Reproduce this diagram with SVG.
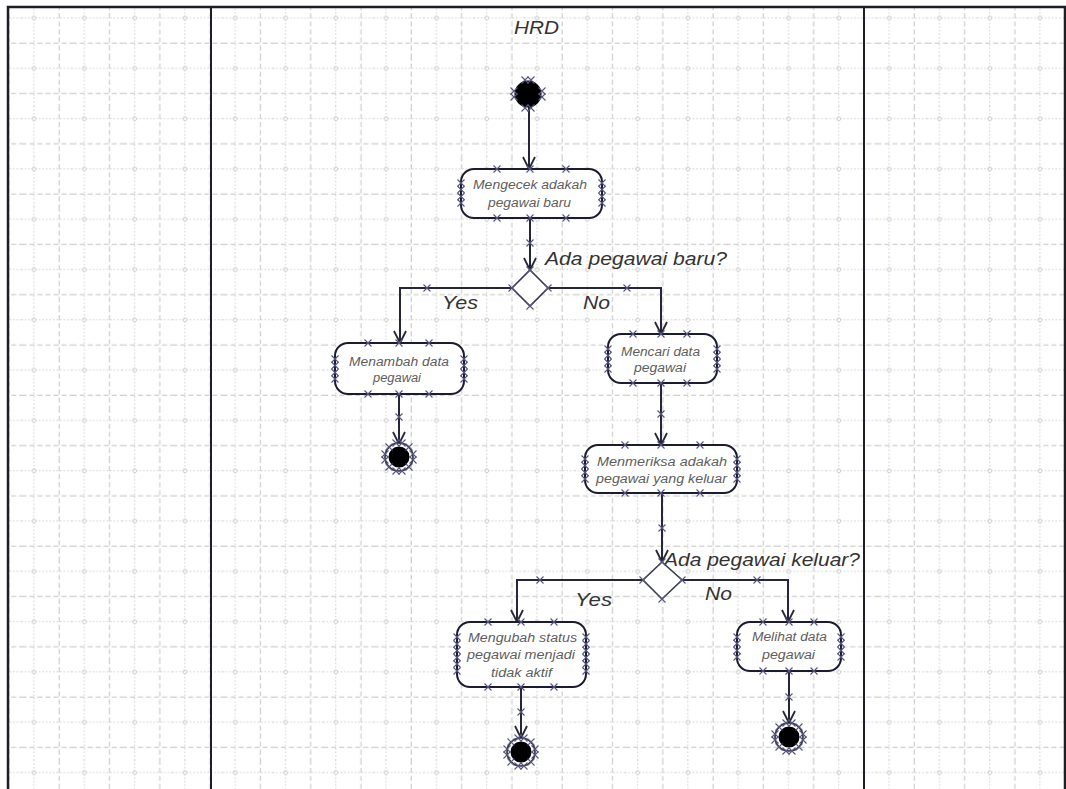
<svg xmlns="http://www.w3.org/2000/svg" width="1066" height="789" viewBox="0 0 1066 789">
  <style>
    .frame { fill: none; stroke: #1e1e24; stroke-width: 2.5; }
    .lane { stroke: #1e1e24; stroke-width: 2; }
    .gdot { stroke: #cfcfcf; stroke-width: 1; stroke-dasharray: 1.5 2; }
    .gdash { stroke: #c2c2c2; stroke-width: 1; stroke-dasharray: 5 3; }
    .act { fill: #ffffff; stroke: #1c1c30; stroke-width: 2; }
    .dec { fill: #ffffff; stroke: #3a3a4a; stroke-width: 1.6; }
    .flow { fill: none; stroke: #26263a; stroke-width: 2; }
    .hx { fill: none; stroke: #55557f; stroke-width: 1.1; }
    .atxt { font-family: "Liberation Sans", Arial, sans-serif; font-style: italic; font-size: 12.5px; fill: #5e5e5e; text-anchor: middle; }
    .big { font-family: "Liberation Sans", Arial, sans-serif; font-style: italic; font-size: 19px; fill: #333333; }
  </style>
  <defs>
    <pattern id="grid" patternUnits="userSpaceOnUse" x="21.43" y="5.43" width="50.3" height="50.3">
      <line class="gdot" x1="12.575" y1="0" x2="12.575" y2="50.3"/>
      <line class="gdot" x1="0" y1="12.575" x2="50.3" y2="12.575"/>
      <line class="gdash" x1="37.725" y1="0" x2="37.725" y2="50.3"/>
      <line class="gdash" x1="0" y1="37.725" x2="50.3" y2="37.725"/>
      <circle cx="12.575" cy="12.575" r="2" fill="none" stroke="#c8c8c8" stroke-width="0.8"/>
    </pattern>
    <marker id="arr" markerUnits="userSpaceOnUse" markerWidth="16" markerHeight="16" refX="13" refY="7" orient="auto">
      <path d="M1,1 L13,7 L1,13" fill="none" stroke="#26263a" stroke-width="1.8"/>
    </marker>
    <!-- single selection handle -->
    <path id="x" class="hx" d="M-3.5,-3.5 L3.5,3.5 M-3.5,3.5 L3.5,-3.5"/>
    <!-- doubled handle used on the initial / final nodes -->
    <g id="xx"><use href="#x" x="-3"/><use href="#x" x="3"/></g>
    <g id="xv"><use href="#x" y="-3"/><use href="#x" y="3"/></g>
    <!-- vertical handle chain on action sides -->
    <g id="side"><use href="#x" y="-10"/><use href="#x" y="-3.5"/><use href="#x" y="3.5"/><use href="#x" y="10"/></g>
    <g id="sideT"><use href="#x" y="-17"/><use href="#x" y="-10"/><use href="#x" y="-3.5"/><use href="#x" y="3.5"/><use href="#x" y="10"/><use href="#x" y="17"/></g>
    <!-- final node -->
    <g id="final">
      <circle r="14" fill="#ffffff" stroke="#2a2a3a" stroke-width="1.6"/>
      <circle r="10.5" fill="#000000"/>
      <use href="#xx" y="-14"/><use href="#xx" y="14"/>
      <use href="#xv" x="-14"/><use href="#xv" x="14"/>
      <use href="#x" x="-10" y="-10"/><use href="#x" x="10" y="-10"/>
      <use href="#x" x="-10" y="10"/><use href="#x" x="10" y="10"/>
    </g>
  </defs>

  <!-- paper and grid -->
  <rect x="0" y="0" width="1066" height="789" fill="#ffffff"/>
  <rect x="8" y="7" width="1057" height="782" fill="url(#grid)"/>
  <rect class="frame" x="8" y="7" width="1057" height="790"/>
  <line class="lane" x1="211" y1="7" x2="211" y2="789"/>
  <line class="lane" x1="864" y1="7" x2="864" y2="789"/>
  <text class="big" x="514" y="34" textLength="45" lengthAdjust="spacingAndGlyphs">HRD</text>

  <!-- connectors -->
  <g id="connectors">
    <path class="flow" d="M529,107 L529,169" marker-end="url(#arr)"/>
    <path class="flow" d="M530,218 L530,270" marker-end="url(#arr)"/>
    <path class="flow" d="M512,288 L400,288 L400,343" marker-end="url(#arr)"/>
    <path class="flow" d="M548,288 L661,288 L661,334" marker-end="url(#arr)"/>
    <path class="flow" d="M399,394 L399,444" marker-end="url(#arr)"/>
    <path class="flow" d="M661,383 L661,445" marker-end="url(#arr)"/>
    <path class="flow" d="M662,493 L662,562" marker-end="url(#arr)"/>
    <path class="flow" d="M643,580 L517,580 L517,622" marker-end="url(#arr)"/>
    <path class="flow" d="M682,580 L788,580 L788,622" marker-end="url(#arr)"/>
    <path class="flow" d="M521,687 L521,738" marker-end="url(#arr)"/>
    <path class="flow" d="M789,671 L789,723" marker-end="url(#arr)"/>
    <!-- handles on connectors -->
    <use href="#x" x="530" y="243"/>
    <use href="#x" x="427" y="288"/>
    <use href="#x" x="627" y="288"/>
    <use href="#x" x="399" y="417"/>
    <use href="#x" x="661" y="414"/>
    <use href="#x" x="662" y="528"/>
    <use href="#x" x="540" y="580"/>
    <use href="#x" x="757" y="580"/>
    <use href="#x" x="521" y="712"/>
    <use href="#x" x="789" y="697"/>
    <text class="big" x="545" y="265" textLength="182" lengthAdjust="spacingAndGlyphs">Ada pegawai baru?</text>
    <text class="big" x="442" y="309" textLength="36" lengthAdjust="spacingAndGlyphs">Yes</text>
    <text class="big" x="583" y="309" textLength="27" lengthAdjust="spacingAndGlyphs">No</text>
    <text class="big" x="664" y="566" textLength="196" lengthAdjust="spacingAndGlyphs">Ada pegawai keluar?</text>
    <text class="big" x="575" y="606" textLength="37" lengthAdjust="spacingAndGlyphs">Yes</text>
    <text class="big" x="705" y="600" textLength="27" lengthAdjust="spacingAndGlyphs">No</text>
  </g>

  <!-- initial node -->
  <g id="start">
    <circle cx="528" cy="94" r="13.5" fill="#000000"/>
    <use href="#xx" x="528" y="80"/>
    <use href="#xx" x="528" y="108"/>
    <use href="#xv" x="514" y="94"/>
    <use href="#xv" x="542" y="94"/>
  </g>

  <g id="act-cek">
    <rect class="act" x="461" y="169" width="141" height="49" rx="13"/>
    <use href="#x" x="497" y="169"/><use href="#x" x="530" y="169"/><use href="#x" x="566" y="169"/>
    <use href="#x" x="497" y="218"/><use href="#x" x="530" y="218"/><use href="#x" x="566" y="218"/>
    <use href="#side" x="461" y="193"/><use href="#side" x="602" y="193"/>
    <text class="atxt" x="530" y="189" textLength="114" lengthAdjust="spacingAndGlyphs">Mengecek adakah</text>
    <text class="atxt" x="529.5" y="207" textLength="83" lengthAdjust="spacingAndGlyphs">pegawai baru</text>
  </g>

  <g id="dec-baru">
    <path class="dec" d="M530,270 L548,288 L530,306 L512,288 Z"/>
    <use href="#x" x="530" y="270"/><use href="#x" x="548" y="288"/>
    <use href="#x" x="530" y="306"/><use href="#x" x="512" y="288"/>
  </g>

  <g id="act-tambah">
    <rect class="act" x="335" y="343" width="129" height="51" rx="13"/>
    <use href="#x" x="368" y="343"/><use href="#x" x="399" y="343"/><use href="#x" x="429" y="343"/>
    <use href="#x" x="368" y="394"/><use href="#x" x="399" y="394"/><use href="#x" x="429" y="394"/>
    <use href="#side" x="335" y="369"/><use href="#side" x="464" y="369"/>
    <text class="atxt" x="399" y="366" textLength="100" lengthAdjust="spacingAndGlyphs">Menambah data</text>
    <text class="atxt" x="397" y="382" textLength="48" lengthAdjust="spacingAndGlyphs">pegawai</text>
  </g>
  <g id="end-tambah"><use href="#final" x="399" y="457"/></g>

  <g id="act-cari">
    <rect class="act" x="608" y="334" width="109" height="49" rx="13"/>
    <use href="#x" x="633" y="334"/><use href="#x" x="661" y="334"/><use href="#x" x="687" y="334"/>
    <use href="#x" x="633" y="383"/><use href="#x" x="661" y="383"/><use href="#x" x="687" y="383"/>
    <use href="#side" x="608" y="359"/><use href="#side" x="717" y="359"/>
    <text class="atxt" x="660.5" y="356" textLength="79" lengthAdjust="spacingAndGlyphs">Mencari data</text>
    <text class="atxt" x="660" y="372" textLength="52" lengthAdjust="spacingAndGlyphs">pegawai</text>
  </g>

  <g id="act-periksa">
    <rect class="act" x="585" y="445" width="152" height="48" rx="13"/>
    <use href="#x" x="625" y="445"/><use href="#x" x="661" y="445"/><use href="#x" x="700" y="445"/>
    <use href="#x" x="625" y="493"/><use href="#x" x="661" y="493"/><use href="#x" x="700" y="493"/>
    <use href="#side" x="585" y="469"/><use href="#side" x="737" y="469"/>
    <text class="atxt" x="662" y="466" textLength="130" lengthAdjust="spacingAndGlyphs">Menmeriksa adakah</text>
    <text class="atxt" x="661.5" y="483" textLength="131" lengthAdjust="spacingAndGlyphs">pegawai yang keluar</text>
  </g>

  <g id="dec-keluar">
    <path class="dec" d="M662,562 L682,580 L662,599 L643,580 Z"/>
    <use href="#x" x="662" y="562"/><use href="#x" x="682" y="580"/>
    <use href="#x" x="662" y="599"/><use href="#x" x="643" y="580"/>
  </g>

  <g id="act-ubah">
    <rect class="act" x="457" y="622" width="129" height="65" rx="13"/>
    <use href="#x" x="488" y="622"/><use href="#x" x="521" y="622"/><use href="#x" x="554" y="622"/>
    <use href="#x" x="488" y="687"/><use href="#x" x="521" y="687"/><use href="#x" x="554" y="687"/>
    <use href="#sideT" x="457" y="654"/><use href="#sideT" x="586" y="654"/>
    <text class="atxt" x="522.5" y="642" textLength="109" lengthAdjust="spacingAndGlyphs">Mengubah status</text>
    <text class="atxt" x="521" y="659" textLength="108" lengthAdjust="spacingAndGlyphs">pegawai menjadi</text>
    <text class="atxt" x="521.5" y="677" textLength="61" lengthAdjust="spacingAndGlyphs">tidak aktif</text>
  </g>
  <g id="end-ubah"><use href="#final" x="521" y="752"/></g>

  <g id="act-lihat">
    <rect class="act" x="737" y="622" width="104" height="49" rx="13"/>
    <use href="#x" x="763" y="622"/><use href="#x" x="789" y="622"/><use href="#x" x="814" y="622"/>
    <use href="#x" x="763" y="671"/><use href="#x" x="789" y="671"/><use href="#x" x="814" y="671"/>
    <use href="#side" x="737" y="647"/><use href="#side" x="841" y="647"/>
    <text class="atxt" x="789.5" y="641" textLength="75" lengthAdjust="spacingAndGlyphs">Melihat data</text>
    <text class="atxt" x="788.5" y="659" textLength="53" lengthAdjust="spacingAndGlyphs">pegawai</text>
  </g>
  <g id="end-lihat"><use href="#final" x="789" y="737"/></g>
</svg>
